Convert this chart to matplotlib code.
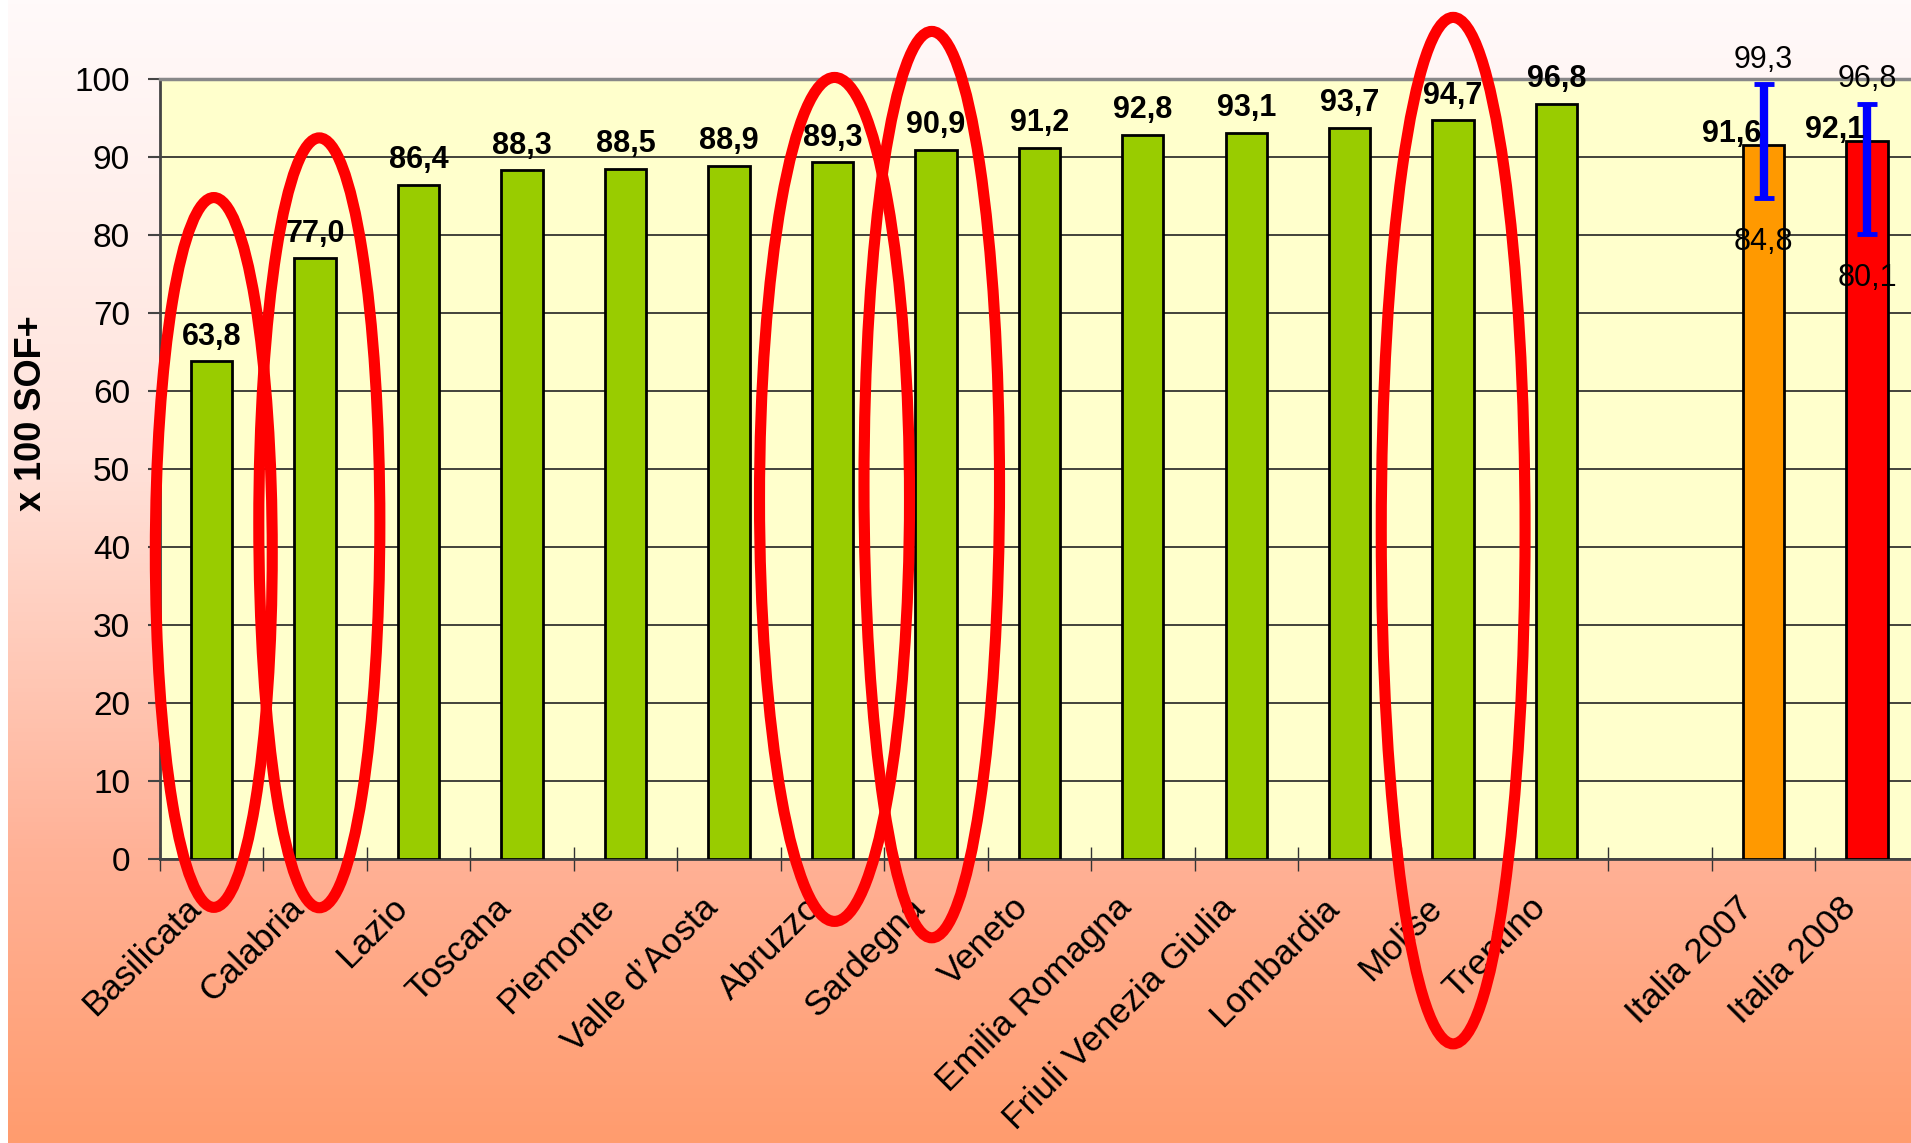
import numpy as np
import matplotlib.pyplot as plt
from matplotlib.patches import Ellipse
from matplotlib.colors import LinearSegmentedColormap

plt.rcParams['font.family'] = ['Liberation Sans', 'DejaVu Sans']

# dati
regioni = ['Basilicata', 'Calabria', 'Lazio', 'Toscana', 'Piemonte', 'Valle d’Aosta',
           'Abruzzo', 'Sardegna', 'Veneto', 'Emilia Romagna', 'Friuli Venezia Giulia',
           'Lombardia', 'Molise', 'Trentino']
valori = [63.8, 77.0, 86.4, 88.3, 88.5, 88.9, 89.3, 90.9, 91.2, 92.8, 93.1, 93.7, 94.7, 96.8]
italia = ['Italia 2007', 'Italia 2008']
italia_val = [91.6, 92.1]
ic_inf = [84.8, 80.1]
ic_sup = [99.3, 96.8]
yticks = list(range(0, 101, 10))

categorie = regioni + [''] + italia
x_all = np.arange(len(categorie))
x_reg = x_all[:len(regioni)]
x_ita = x_all[-len(italia):]


def fmt(v):
    return f"{v:.1f}".replace('.', ',')


fig = plt.figure(figsize=(19.11, 11.43), dpi=100)
fig.patch.set_facecolor('white')

# sfondo sfumato
bg = fig.add_axes([8 / 1911, 0, 1 - 8 / 1911, 1], zorder=-10)
cmap = LinearSegmentedColormap.from_list(
    'sfondo', [(0, '#FFFAFA'), (0.4, '#FFE2DA'), (0.75, '#FFB196'), (1, '#FF9C6E')])
bg.imshow(np.linspace(0, 1, 256).reshape(-1, 1), aspect='auto', cmap=cmap)
bg.axis('off')

ax = fig.add_axes([160 / 1911, 284 / 1143, 1758.7 / 1911, 780 / 1143])
ax.set_facecolor('#FFFFCC')
ax.set_xlim(-0.5, len(categorie) - 0.5)
ax.set_ylim(0, 100)
ax.set_yticks(yticks)
ax.yaxis.grid(True, color='#222222', lw=1.2)
ax.set_axisbelow(True)

ax.bar(x_reg, valori, 0.4, color='#99CC00', edgecolor='black', lw=2, zorder=3)
ax.bar(x_ita, italia_val, 0.4, color=['#FF9900', '#FF0000'], edgecolor='black', lw=2, zorder=3)

err = [np.array(italia_val) - np.array(ic_inf), np.array(ic_sup) - np.array(italia_val)]
ax.errorbar(x_ita, italia_val, yerr=err, fmt='none', ecolor='#0000FF',
            elinewidth=6, capsize=7, capthick=3.5, zorder=4)

for x, v in zip(x_reg, valori):
    ax.annotate(fmt(v), (x, v), xytext=(0, 12), textcoords='offset points',
                ha='center', va='baseline', fontsize=22, fontweight='bold', zorder=5)
for x, v, lo, hi in zip(x_ita, italia_val, ic_inf, ic_sup):
    ax.annotate(fmt(v), (x, v), xytext=(-23, 2), textcoords='offset points',
                ha='center', va='baseline', fontsize=22, fontweight='bold', zorder=5)
    ax.annotate(fmt(hi), (x, hi), xytext=(0, 12), textcoords='offset points',
                ha='center', va='baseline', fontsize=22, zorder=5, annotation_clip=False)
    ax.annotate(fmt(lo), (x, lo), xytext=(0, -21), textcoords='offset points',
                ha='center', va='top', fontsize=22, zorder=5)

for s in ['left', 'bottom']:
    ax.spines[s].set_color('#444444')
    ax.spines[s].set_linewidth(2)
ax.spines['top'].set_color('#888888')
ax.spines['top'].set_linewidth(2.5)
ax.spines['right'].set_visible(False)

# etichette categorie ruotate (stile Excel)
ax.set_xticks(x_all)
ax.set_xticklabels([])
ax.tick_params(axis='x', which='major', length=0)
for x, lbl in zip(x_all, categorie):
    ax.annotate(lbl, (x, 0), xycoords=ax.get_xaxis_transform(), xytext=(-20, -23),
                textcoords='offset points', rotation=45, rotation_mode='anchor',
                ha='right', va='top', fontsize=25.5, annotation_clip=False)
ax.set_xticks(np.arange(-0.5, len(categorie), 1), minor=True)
ax.tick_params(axis='x', which='minor', direction='inout', length=17, width=1, color='#333333')
ax.tick_params(axis='y', direction='out', length=8.6, width=1.5, labelsize=24, pad=13, color='#444444')

fig.text(32 / 1911, 1 - 413 / 1143, 'x 100 SOF+', rotation=90, ha='center', va='center',
         fontsize=26, fontweight='bold')

# ellissi rosse: (centro x, centro y, larghezza, altezza) in unita' dei dati
ellissi = [(0.02, 39.3, 1.13, 91.0), (1.04, 43.1, 1.17, 98.7), (6.02, 46.1, 1.45, 108.2),
           (6.96, 48.0, 1.31, 116.2), (12.0, 42.1, 1.39, 131.6)]
for cx, cy, w, h in ellissi:
    ax.add_patch(Ellipse((cx, cy), w, h, fill=False, edgecolor='#FF0000', lw=8,
                         zorder=10, clip_on=False))

fig.savefig('out.png', dpi=100)
